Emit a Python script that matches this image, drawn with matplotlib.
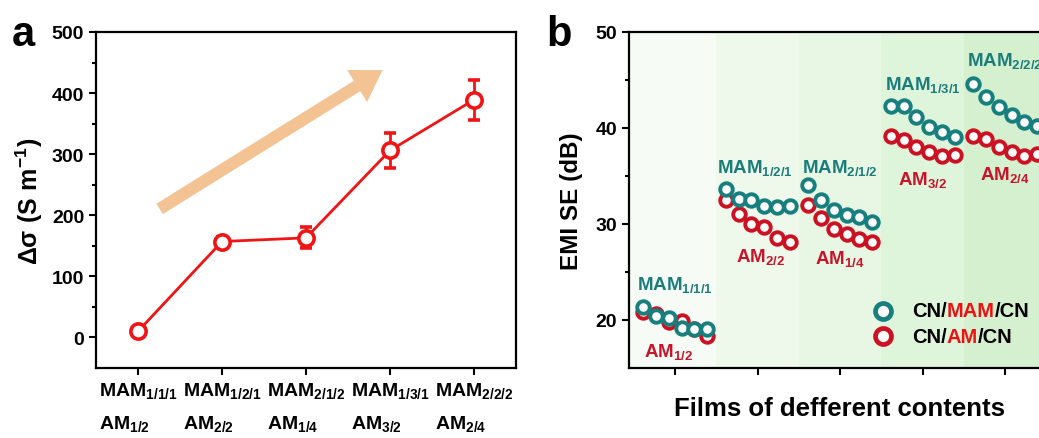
import numpy as np
import matplotlib
matplotlib.use("Agg")
import matplotlib.pyplot as plt

plt.rcParams["font.family"] = ["Liberation Sans", "DejaVu Sans"]
plt.rcParams["font.weight"] = "bold"
plt.rcParams["axes.labelweight"] = "bold"
plt.rcParams["mathtext.fontset"] = "custom"
plt.rcParams["mathtext.rm"] = "Liberation Sans:bold"
plt.rcParams["mathtext.it"] = "Liberation Sans:bold"
plt.rcParams["mathtext.bf"] = "Liberation Sans:bold"

# ---- panel a: conductivity change per film ----
mam_names = ["1/1/1", "1/2/1", "2/1/2", "1/3/1", "2/2/2"]
am_names = ["1/2", "2/2", "1/4", "3/2", "2/4"]
delta_sigma = [10, 157, 163, 306, 389]
delta_sigma_err = [3, 8, 17, 29, 33]

# ---- panel b: EMI shielding, six measurements per film ----
se_mam = [
    [21.3, 20.45, 20.2, 19.2, 19.05, 19.1],
    [33.65, 32.6, 32.45, 31.85, 31.75, 31.85],
    [34.1, 32.5, 31.5, 30.9, 30.7, 30.25],
    [42.3, 42.3, 41.15, 40.1, 39.55, 39.05],
    [44.6, 43.2, 42.2, 41.4, 40.6, 40.2],
]
se_am = [
    [20.85, 20.6, 19.75, 19.9, 19.1, 18.35],
    [32.45, 31.05, 30.0, 29.65, 28.5, 28.15],
    [31.95, 30.65, 29.5, 28.95, 28.45, 28.1],
    [39.15, 38.7, 38.0, 37.5, 37.1, 37.15],
    [39.2, 38.8, 38.0, 37.45, 37.1, 37.25],
]
band_colors = ["#f6fcf5", "#eef9ec", "#e7f7e4", "#dff5db", "#d4f0ce"]

RED = "#f01414"
TEAL = "#17807f"
DRED = "#cc1222"
TEAL_TXT = "#1b7d7b"
DRED_TXT = "#c8142a"
PEACH = "#f4c394"


def sub(name, idx):
    return r"$\mathrm{%s}_{\mathrm{%s}}$" % (name, idx)


fig = plt.figure(figsize=(10.39, 4.39), dpi=100)

# ===================== panel a =====================
axa = fig.add_axes([0.0924, 0.1595, 0.4042, 0.7654])
x = np.arange(1, len(delta_sigma) + 1)
axa.errorbar(x, delta_sigma, yerr=delta_sigma_err, color=RED, lw=2,
             marker="o", ms=11, mfc="white", mec=RED, mew=2.6,
             elinewidth=2, capsize=4, capthick=2, zorder=3)
axa.annotate("", xy=(3.94, 440), xytext=(1.23, 208),
             arrowprops=dict(arrowstyle="simple,head_width=1.7,head_length=1.35,tail_width=0.55",
                             color=PEACH, lw=0, mutation_scale=16))
axa.set_xlim(0.5, 5.5)
axa.set_ylim(-50, 500)
axa.set_yticks([0, 100, 200, 300, 400, 500])
axa.set_yticks(np.arange(50, 500, 100), minor=True)
axa.set_xticks(x)
axa.set_xticklabels([sub("MAM", m) + "\n" + sub("AM", a)
                     for m, a in zip(mam_names, am_names)],
                    multialignment="left", linespacing=1.85, fontsize=14)
axa.set_ylabel(r"$\mathrm{\Delta\sigma\ (S\ m^{-1})}$", fontsize=18, labelpad=5)

# ===================== panel b =====================
axb = fig.add_axes([0.6054, 0.1595, 0.405, 0.7654])
xlo, xhi = 0.44, 5.54
edges = [xlo, 1.5, 2.5, 3.5, 4.5, xhi]
for i, c in enumerate(band_colors):
    axb.axvspan(edges[i], edges[i + 1], color=c, lw=0, zorder=0)

offsets = (np.arange(6) - 2.5) * 0.155
for g in range(len(se_mam)):
    xs = g + 1 + offsets
    axb.plot(xs, se_am[g], "o", ms=9, mfc="white", mec=DRED, mew=2.8, zorder=3)
    axb.plot(xs, se_mam[g], "o", ms=9, mfc="white", mec=TEAL, mew=2.8, zorder=4)

# film names beside each group
mam_pos = [(1.0, 23.7), (1.96, 35.9), (2.99, 35.9), (4.0, 44.6), (5.0, 47.1)]
am_pos = [(0.92, 16.8), (2.03, 26.7), (3.0, 26.5), (4.0, 34.7), (5.0, 35.2)]
for (px, py), m in zip(mam_pos, mam_names):
    axb.text(px, py, sub("MAM", m), color=TEAL_TXT, fontsize=13.5,
             ha="center", va="center", zorder=5)
for (px, py), a in zip(am_pos, am_names):
    axb.text(px, py, sub("AM", a), color=DRED_TXT, fontsize=13.5,
             ha="center", va="center", zorder=5)

# legend with a two-colour label
legend_rows = [(0.170, TEAL, "MAM"), (0.095, DRED, "AM")]
for ly, mc, mid in legend_rows:
    axb.plot([0.603], [ly], "o", ms=11.5, mfc="white", mec=mc, mew=3.4,
             transform=axb.transAxes, clip_on=False, zorder=6)
    t1 = axb.text(0.672, ly, "CN/", fontsize=14.5, color="black",
                  va="center", ha="left", transform=axb.transAxes, zorder=6)
    t2 = axb.annotate(mid, xy=(1, 0), xycoords=t1, fontsize=14.5,
                      color="#ee1111", va="bottom", ha="left", zorder=6)
    axb.annotate("/CN", xy=(1, 0), xycoords=t2, fontsize=14.5,
                 color="black", va="bottom", ha="left", zorder=6)

axb.set_xlim(xlo, xhi)
axb.set_ylim(15, 50)
axb.set_yticks([20, 30, 40, 50])
axb.set_yticks([25, 35, 45], minor=True)
axb.set_xticks(np.arange(1, 6))
axb.set_xticklabels([])
axb.set_ylabel("EMI SE (dB)", fontsize=17.5, labelpad=9)
axb.set_xlabel("Films of defferent contents", fontsize=18.5, labelpad=12)

for ax in (axa, axb):
    for s in ax.spines.values():
        s.set_linewidth(1.6)
    ax.tick_params(which="both", direction="out", width=1.5, top=False, right=False)
    ax.tick_params(which="major", length=5)
    ax.tick_params(axis="y", which="major", labelsize=14)
    ax.tick_params(which="minor", length=3)
    ax.tick_params(axis="x", which="minor", bottom=False)

fig.text(0.011, 0.895, "a", fontsize=30, fontweight="bold")
fig.text(0.526, 0.895, "b", fontsize=30, fontweight="bold")

fig.savefig("out.png", dpi=100)
